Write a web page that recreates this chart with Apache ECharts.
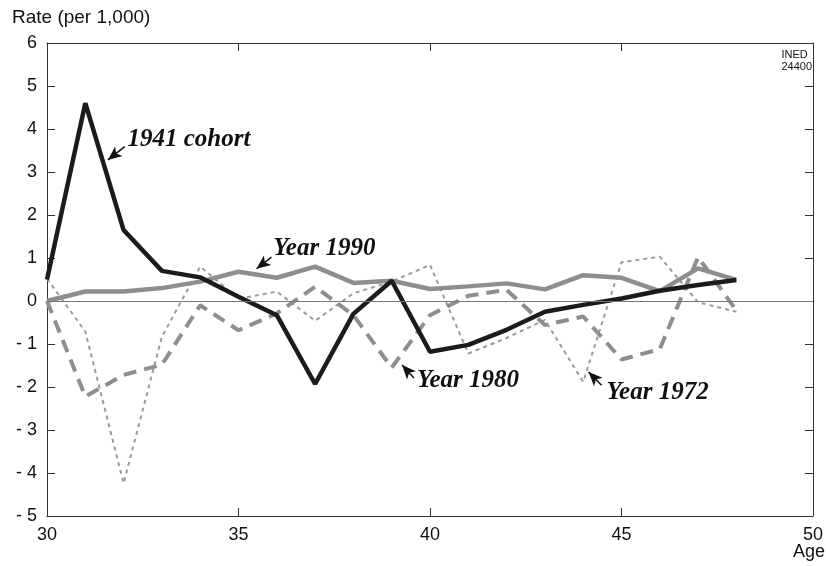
<!DOCTYPE html>
<html>
<head>
<meta charset="utf-8">
<script src="https://cdn.jsdelivr.net/npm/echarts@6/dist/echarts.min.js"></script>
<style>
  html, body { margin: 0; padding: 0; background: #fff; }
  #chart { width: 826px; height: 566px; }
</style>
</head>
<body>
<div id="chart"></div>
<script>
const ages = [30, 31, 32, 33, 34, 35, 36, 37, 38, 39, 40, 41, 42, 43, 44, 45, 46, 47, 48];
const cohort1941 = [0.5, 4.6, 1.65, 0.7, 0.55, 0.1, -0.33, -1.93, -0.3, 0.47, -1.18, -1.02, -0.67, -0.25, -0.09, 0.06, 0.24, 0.37, 0.49];
const year1990 = [0, 0.22, 0.22, 0.3, 0.45, 0.68, 0.54, 0.8, 0.42, 0.47, 0.28, 0.34, 0.41, 0.27, 0.6, 0.54, 0.23, 0.76, 0.49];
const year1980 = [0, -2.22, -1.72, -1.48, -0.1, -0.68, -0.29, 0.33, -0.33, -1.55, -0.33, 0.12, 0.26, -0.56, -0.36, -1.36, -1.12, 1.02, -0.22];
const year1972 = [0.52, -0.71, -4.24, -0.83, 0.8, 0.05, 0.22, -0.46, 0.18, 0.45, 0.84, -1.22, -0.86, -0.44, -1.88, 0.9, 1.03, -0.03, -0.25];

// annotation anchors in data units: label left/middle, arrow tail, arrow tip
const notes = [
  { text: "1941 cohort", at: [32.1, 3.75], tail: [32.03, 3.59], tip: [31.59, 3.28] },
  { text: "Year 1990", at: [35.91, 1.23], tail: [35.86, 1.02], tip: [35.47, 0.75] },
  { text: "Year 1980", at: [39.66, -1.86], tail: [39.58, -1.79], tip: [39.27, -1.49] },
  { text: "Year 1972", at: [44.61, -2.12], tail: [44.48, -1.96], tip: [44.14, -1.65] }
];

const pairs = (vals) => ages.map((a, i) => [a, vals[i]]);

const chart = echarts.init(document.getElementById("chart"));

const axisCol = "#333";
const font = "'Liberation Sans', Arial, sans-serif";

// one framed side of the box: line + inward ticks
function side(extra) {
  return Object.assign({
    type: "value",
    axisLine: { show: true, onZero: false, lineStyle: { color: axisCol, width: 1 } },
    axisTick: { show: true, inside: true, length: 8, lineStyle: { color: axisCol } },
    splitLine: { show: false }
  }, extra);
}

const option = {
  animation: false,
  grid: { left: 47, top: 43, right: 11, bottom: 50 },
  xAxis: [
    side({
      min: 30, max: 50, interval: 5, position: "bottom",
      axisLabel: { color: "#111", fontSize: 18, fontFamily: font, margin: 10 }
    }),
    side({ min: 30, max: 50, interval: 5, position: "top", axisLabel: { show: false } })
  ],
  yAxis: [
    side({
      min: -5, max: 6, interval: 1, position: "left",
      axisLabel: {
        color: "#111", fontSize: 18, fontFamily: font, margin: 10,
        formatter: (v) => (v < 0 ? "- " + (-v) : String(v))
      }
    }),
    side({ min: -5, max: 6, interval: 1, position: "right", axisLabel: { show: false } })
  ],
  series: [
    {
      name: "Year 1972", type: "line", data: pairs(year1972), showSymbol: false,
      lineStyle: { color: "#9a9a9a", width: 2, type: [4, 4] },
      markLine: {
        silent: true, symbol: "none", label: { show: false },
        lineStyle: { color: "#777", width: 1, type: "solid" },
        data: [{ yAxis: 0 }]
      }
    },
    {
      name: "Year 1980", type: "line", data: pairs(year1980), showSymbol: false,
      lineStyle: { color: "#8e8e8e", width: 4, type: [13, 8] }
    },
    {
      name: "Year 1990", type: "line", data: pairs(year1990), showSymbol: false,
      lineStyle: { color: "#8e8e8e", width: 4.5 }
    },
    {
      name: "1941 cohort", type: "line", data: pairs(cohort1941), showSymbol: false,
      lineStyle: { color: "#1c1a1a", width: 4.5 },
      markLine: {
        silent: true, symbol: ["none", "arrow"], symbolSize: [9, 14],
        label: { show: false },
        lineStyle: { color: "#111", width: 1.5, type: "solid" },
        data: notes.map((n) => [{ coord: n.tail }, { coord: n.tip }])
      }
    }
  ],
  graphic: [
    {
      type: "text", left: 12, top: 8,
      style: { text: "Rate (per 1,000)", font: "19px " + font, fill: "#111" }
    },
    {
      type: "text", right: 1, top: 543,
      style: { text: "Age", font: "18px " + font, fill: "#111" }
    },
    {
      type: "text", right: 14, top: 49,
      style: { text: "INED\n24400", font: "11px " + font, fill: "#111", align: "right", lineHeight: 12 }
    }
  ]
};

chart.setOption(option);

// labels placed from data coordinates
const labelGraphics = notes.map((n) => {
  const p = chart.convertToPixel({ xAxisIndex: 0, yAxisIndex: 0 }, n.at);
  return {
    type: "text", x: p[0], y: p[1],
    style: {
      text: n.text, font: "italic bold 25px 'Liberation Serif', 'Times New Roman', serif",
      fill: "#111", verticalAlign: "middle"
    }
  };
});
chart.setOption({ graphic: option.graphic.concat(labelGraphics) });
</script>
</body>
</html>
